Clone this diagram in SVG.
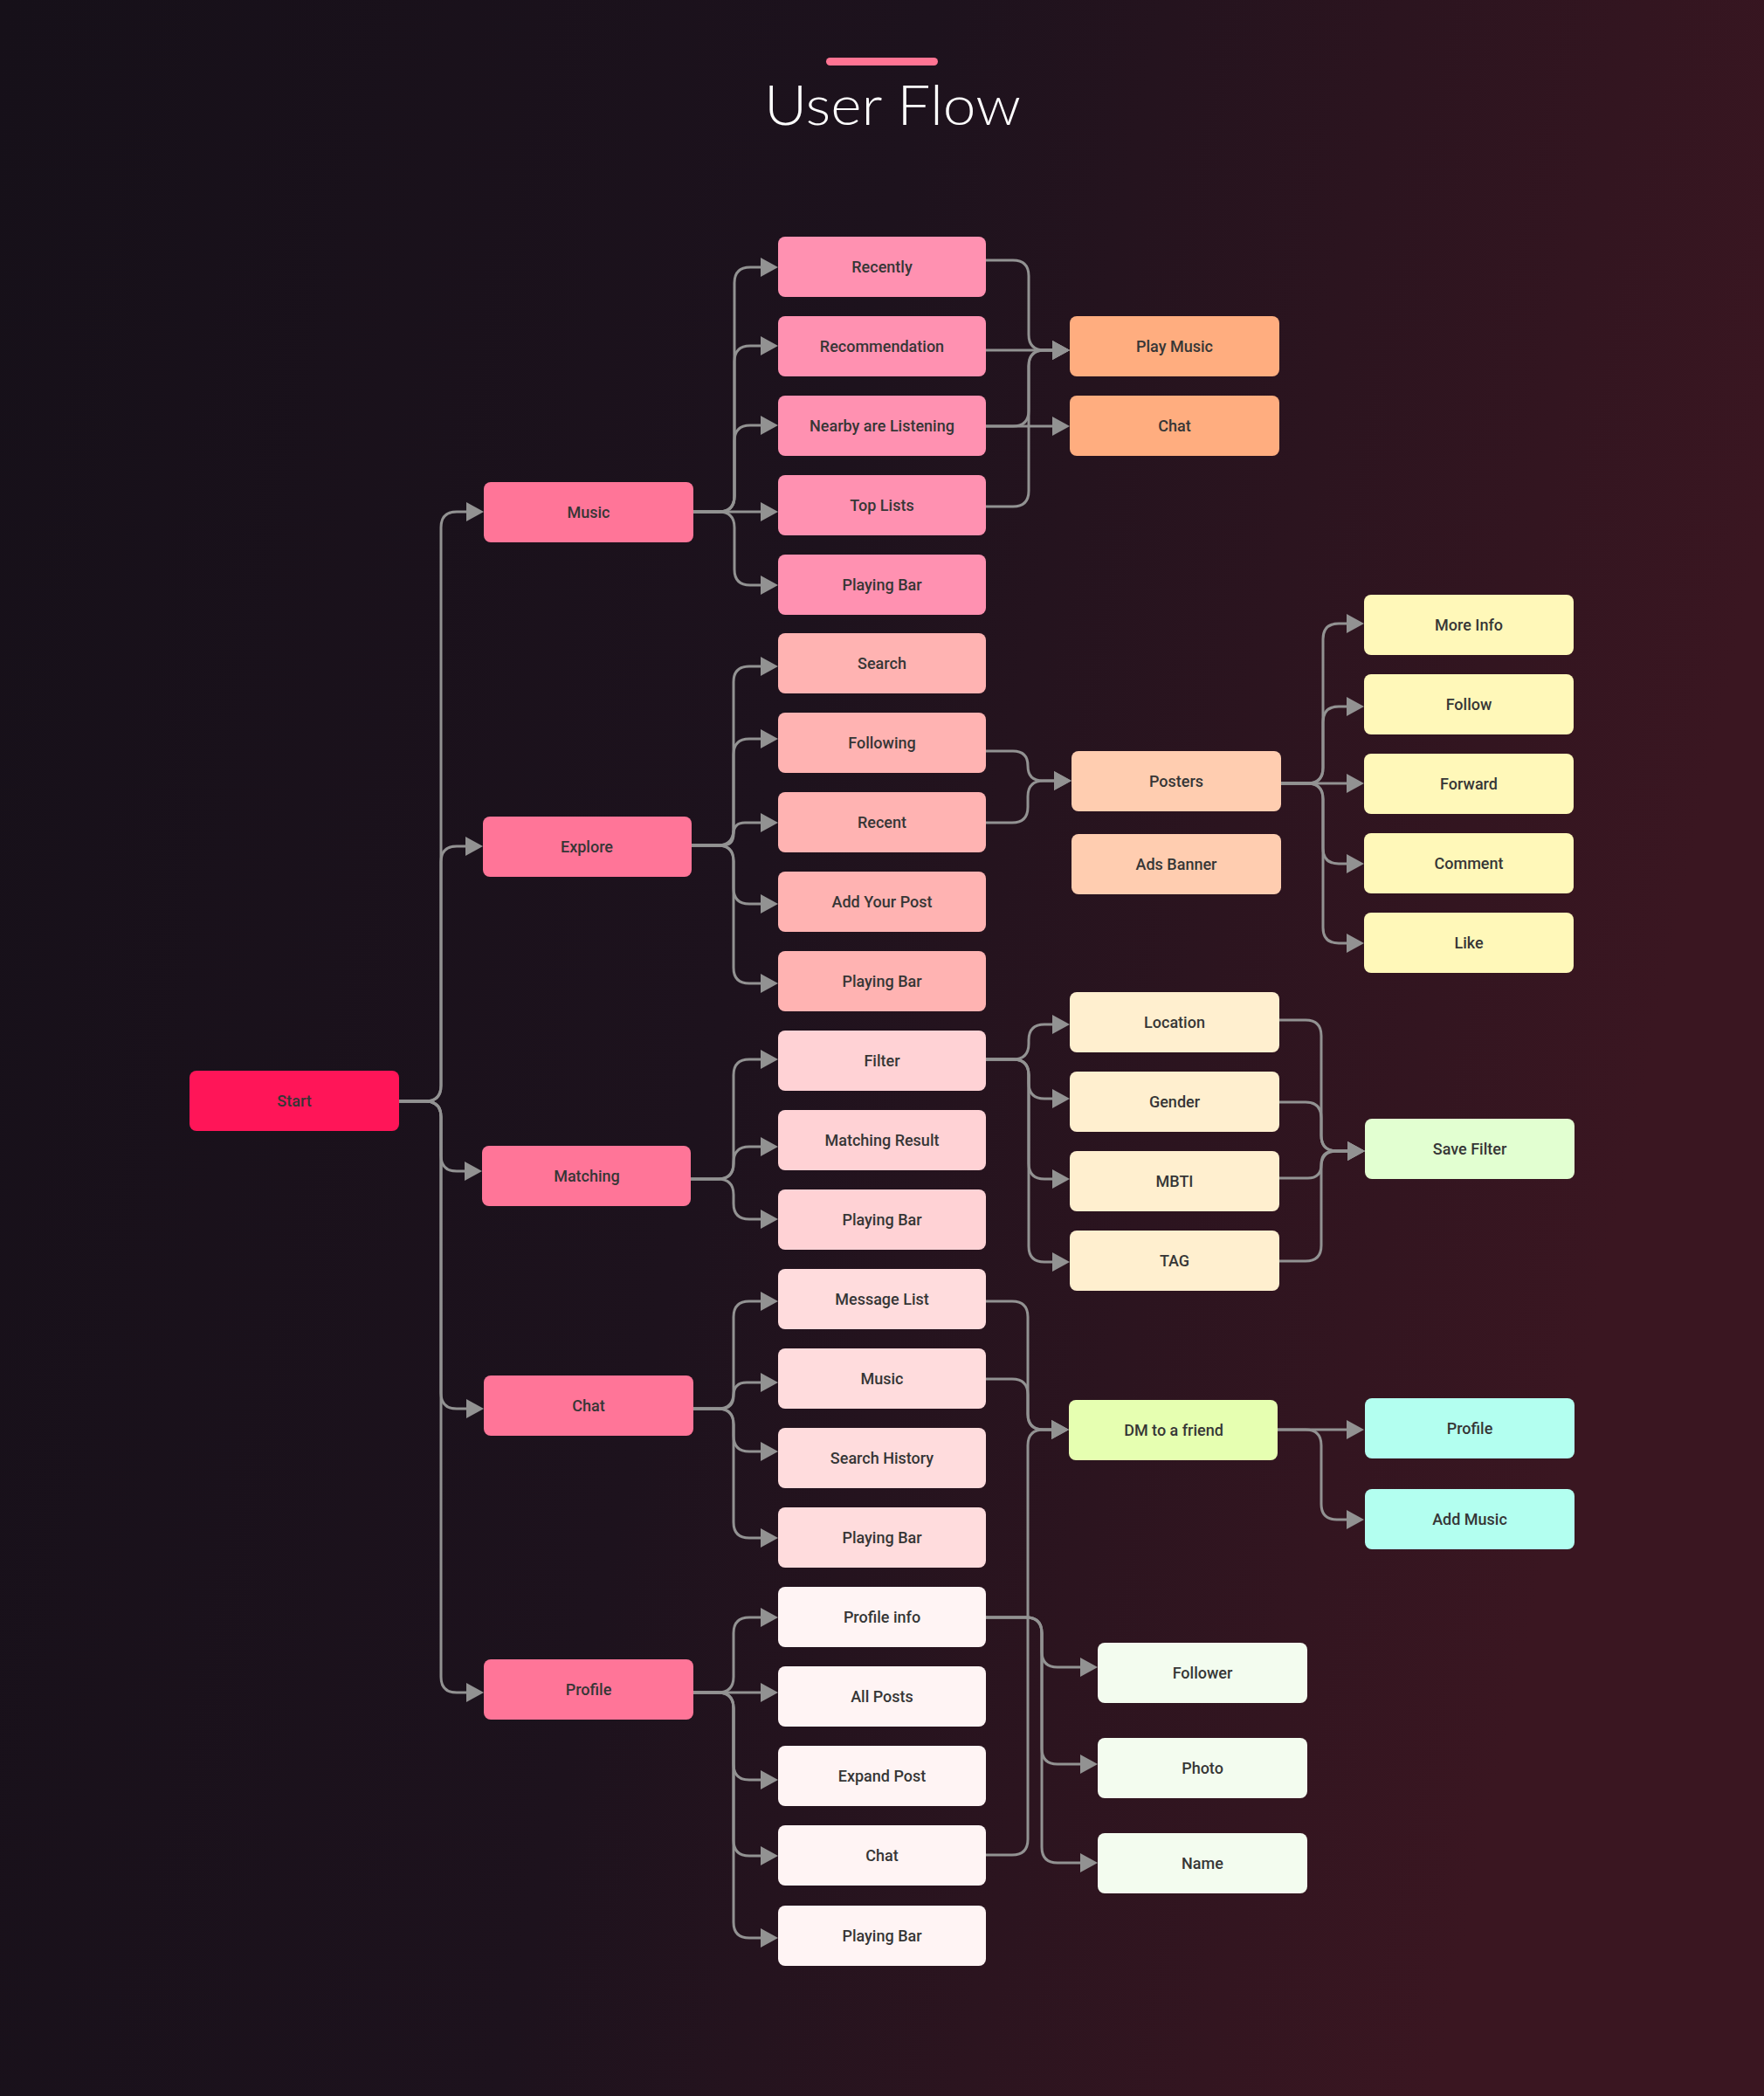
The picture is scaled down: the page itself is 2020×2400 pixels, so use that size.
<svg xmlns="http://www.w3.org/2000/svg" width="2020" height="2400" viewBox="0 0 2020 2400">
<defs>
<linearGradient id="bg" x1="0" y1="0" x2="1" y2="0.25">
<stop offset="0" stop-color="#161019"/>
<stop offset="0.5" stop-color="#1d121d"/>
<stop offset="1" stop-color="#3a1621"/>
</linearGradient>
<marker id="ah" markerUnits="userSpaceOnUse" markerWidth="20" markerHeight="22" refX="12" refY="11" orient="auto">
<path d="M0,0 L20,11 L0,22 Z" fill="#929292"/>
</marker>
<style>
.c path{fill:none;stroke:#929292;stroke-width:3;marker-end:url(#ah)}
.n rect{rx:8;ry:8}
.n text{font-family:Roboto,"Liberation Sans",sans-serif;font-weight:500;font-size:18px;fill:#363636;text-anchor:middle}
.st rect{fill:#FF1558}
.b rect{fill:#FF7598}
.c1 rect{fill:#FF91B1}
.c2 rect{fill:#FFB3B2}
.c3 rect{fill:#FFD2D5}
.c4 rect{fill:#FFDCDD}
.c5 rect{fill:#FFF4F4}
.d1 rect{fill:#FFAD7F}
.d2 rect{fill:#FFCDB0}
.d3 rect{fill:#FFEFCF}
.dm rect{fill:#E6FFB1}
.f rect{fill:#F3FCEF}
.e1 rect{fill:#FFF8B9}
.sf rect{fill:#E2FFD1}
.e3 rect{fill:#B3FFF0}
</style>
</defs>
<rect x="0" y="0" width="2020" height="2400" fill="url(#bg)"/>
<g id="title">
<rect x="946" y="66" width="128" height="9" rx="4.5" fill="#FF7493"/>
<text x="875" y="143" textLength="294" lengthAdjust="spacingAndGlyphs" font-family="Lato,'Open Sans',sans-serif" font-weight="300" font-size="64" fill="#ffffff">User Flow</text>
</g>
<g id="connectors" class="c">
<path d="M457 1261 H487 Q505 1261 505 1243 V604 Q505 586 523 586 H546"/>
<path d="M457 1261 H487 Q505 1261 505 1243 V987 Q505 969 523 969 H545"/>
<path d="M457 1261 H487 Q505 1261 505 1279 V1323 Q505 1341 523 1341 H544"/>
<path d="M457 1261 H487 Q505 1261 505 1279 V1595 Q505 1613 523 1613 H546"/>
<path d="M457 1261 H487 Q505 1261 505 1279 V1920 Q505 1938 523 1938 H546"/>
<path d="M794 586 H823 Q841 586 841 568 V324 Q841 306 859 306 H883"/>
<path d="M794 586 H823 Q841 586 841 568 V414 Q841 396 859 396 H883"/>
<path d="M794 586 H823 Q841 586 841 568 V505 Q841 487 859 487 H883"/>
<path d="M794 586 H883"/>
<path d="M794 586 H823 Q841 586 841 604 V652 Q841 670 859 670 H883"/>
<path d="M791 968 H822 Q840 968 840 950 V781 Q840 763 858 763 H883"/>
<path d="M791 968 H822 Q840 968 840 950 V864 Q840 846 858 846 H883"/>
<path d="M791 968 H827 Q840 968 840 955 Q840 942 853 942 H883"/>
<path d="M791 968 H822 Q840 968 840 986 V1017 Q840 1035 858 1035 H883"/>
<path d="M791 968 H822 Q840 968 840 986 V1108 Q840 1126 858 1126 H883"/>
<path d="M791 1350 H822 Q840 1350 840 1332 V1231 Q840 1213 858 1213 H883"/>
<path d="M791 1350 H822 Q840 1350 840 1332 V1331 Q840 1313 858 1313 H883"/>
<path d="M791 1350 H822 Q840 1350 840 1368 V1378 Q840 1396 858 1396 H883"/>
<path d="M794 1613 H822 Q840 1613 840 1595 V1508 Q840 1490 858 1490 H883"/>
<path d="M794 1613 H825 Q840 1613 840 1598 Q840 1583 855 1583 H883"/>
<path d="M794 1613 H822 Q840 1613 840 1631 V1644 Q840 1662 858 1662 H883"/>
<path d="M794 1613 H822 Q840 1613 840 1631 V1743 Q840 1761 858 1761 H883"/>
<path d="M794 1938 H822 Q840 1938 840 1920 V1870 Q840 1852 858 1852 H883"/>
<path d="M794 1938 H883"/>
<path d="M794 1938 H822 Q840 1938 840 1956 V2020 Q840 2038 858 2038 H883"/>
<path d="M794 1938 H822 Q840 1938 840 1956 V2107 Q840 2125 858 2125 H883"/>
<path d="M794 1938 H822 Q840 1938 840 1956 V2201 Q840 2219 858 2219 H883"/>
<path d="M1129 298 H1160 Q1178 298 1178 316 V383 Q1178 401 1196 401 H1217"/>
<path d="M1129 401 H1217"/>
<path d="M1129 488 H1160 Q1178 488 1178 470 V419 Q1178 401 1196 401 H1217"/>
<path d="M1129 488 H1217"/>
<path d="M1129 580 H1160 Q1178 580 1178 562 V419 Q1178 401 1196 401 H1217"/>
<path d="M1129 860 H1160 Q1177 860 1177 877 Q1177 894 1194 894 H1219"/>
<path d="M1129 942 H1159 Q1177 942 1177 924 V912 Q1177 894 1195 894 H1219"/>
<path d="M1467 897 H1497 Q1515 897 1515 879 V732 Q1515 714 1533 714 H1554"/>
<path d="M1467 897 H1497 Q1515 897 1515 879 V827 Q1515 809 1533 809 H1554"/>
<path d="M1467 897 H1554"/>
<path d="M1467 897 H1497 Q1515 897 1515 915 V971 Q1515 989 1533 989 H1554"/>
<path d="M1467 897 H1497 Q1515 897 1515 915 V1062 Q1515 1080 1533 1080 H1554"/>
<path d="M1129 1213 H1160 Q1178 1213 1178 1195 V1191 Q1178 1173 1196 1173 H1217"/>
<path d="M1129 1213 H1160 Q1178 1213 1178 1231 V1240 Q1178 1258 1196 1258 H1217"/>
<path d="M1129 1213 H1160 Q1178 1213 1178 1231 V1332 Q1178 1350 1196 1350 H1217"/>
<path d="M1129 1213 H1160 Q1178 1213 1178 1231 V1427 Q1178 1445 1196 1445 H1217"/>
<path d="M1465 1168 H1495 Q1513 1168 1513 1186 V1300 Q1513 1318 1531 1318 H1555"/>
<path d="M1465 1262 H1495 Q1513 1262 1513 1280 V1300 Q1513 1318 1531 1318 H1555"/>
<path d="M1465 1349 H1497.5 Q1513 1349 1513 1333.5 Q1513 1318 1528.5 1318 H1555"/>
<path d="M1465 1444 H1495 Q1513 1444 1513 1426 V1336 Q1513 1318 1531 1318 H1555"/>
<path d="M1129 1490 H1159 Q1177 1490 1177 1508 V1619 Q1177 1637 1195 1637 H1216"/>
<path d="M1129 1579 H1159 Q1177 1579 1177 1597 V1619 Q1177 1637 1195 1637 H1216"/>
<path d="M1129 2124 H1159 Q1177 2124 1177 2106 V1655 Q1177 1637 1195 1637 H1216"/>
<path d="M1463 1637 H1554"/>
<path d="M1463 1637 H1495 Q1513 1637 1513 1655 V1722 Q1513 1740 1531 1740 H1554"/>
<path d="M1129 1852 H1175 Q1193 1852 1193 1870 V1891 Q1193 1909 1211 1909 H1249"/>
<path d="M1129 1852 H1175 Q1193 1852 1193 1870 V2002 Q1193 2020 1211 2020 H1249"/>
<path d="M1129 1852 H1175 Q1193 1852 1193 1870 V2115 Q1193 2133 1211 2133 H1249"/>
</g>
<g id="n-start" class="n st"><rect x="217" y="1226" width="240" height="69"/><text x="337" y="1267">Start</text></g>
<g id="n-music" class="n b"><rect x="554" y="552" width="240" height="69"/><text x="674" y="593">Music</text></g>
<g id="n-explore" class="n b"><rect x="553" y="935" width="239" height="69"/><text x="672" y="976">Explore</text></g>
<g id="n-matching" class="n b"><rect x="552" y="1312" width="239" height="69"/><text x="672" y="1353">Matching</text></g>
<g id="n-chat" class="n b"><rect x="554" y="1575" width="240" height="69"/><text x="674" y="1616">Chat</text></g>
<g id="n-profile" class="n b"><rect x="554" y="1900" width="240" height="69"/><text x="674" y="1941">Profile</text></g>
<g id="n-recently" class="n c1"><rect x="891" y="271" width="238" height="69"/><text x="1010" y="312">Recently</text></g>
<g id="n-recommendation" class="n c1"><rect x="891" y="362" width="238" height="69"/><text x="1010" y="403">Recommendation</text></g>
<g id="n-nearby" class="n c1"><rect x="891" y="453" width="238" height="69"/><text x="1010" y="494">Nearby are Listening</text></g>
<g id="n-toplists" class="n c1"><rect x="891" y="544" width="238" height="69"/><text x="1010" y="585">Top Lists</text></g>
<g id="n-playingbar1" class="n c1"><rect x="891" y="635" width="238" height="69"/><text x="1010" y="676">Playing Bar</text></g>
<g id="n-search" class="n c2"><rect x="891" y="725" width="238" height="69"/><text x="1010" y="766">Search</text></g>
<g id="n-following" class="n c2"><rect x="891" y="816" width="238" height="69"/><text x="1010" y="857">Following</text></g>
<g id="n-recent" class="n c2"><rect x="891" y="907" width="238" height="69"/><text x="1010" y="948">Recent</text></g>
<g id="n-addpost" class="n c2"><rect x="891" y="998" width="238" height="69"/><text x="1010" y="1039">Add Your Post</text></g>
<g id="n-playingbar2" class="n c2"><rect x="891" y="1089" width="238" height="69"/><text x="1010" y="1130">Playing Bar</text></g>
<g id="n-filter" class="n c3"><rect x="891" y="1180" width="238" height="69"/><text x="1010" y="1221">Filter</text></g>
<g id="n-matchingresult" class="n c3"><rect x="891" y="1271" width="238" height="69"/><text x="1010" y="1312">Matching Result</text></g>
<g id="n-playingbar3" class="n c3"><rect x="891" y="1362" width="238" height="69"/><text x="1010" y="1403">Playing Bar</text></g>
<g id="n-messagelist" class="n c4"><rect x="891" y="1453" width="238" height="69"/><text x="1010" y="1494">Message List</text></g>
<g id="n-chatmusic" class="n c4"><rect x="891" y="1544" width="238" height="69"/><text x="1010" y="1585">Music</text></g>
<g id="n-searchhistory" class="n c4"><rect x="891" y="1635" width="238" height="69"/><text x="1010" y="1676">Search History</text></g>
<g id="n-playingbar4" class="n c4"><rect x="891" y="1726" width="238" height="69"/><text x="1010" y="1767">Playing Bar</text></g>
<g id="n-profileinfo" class="n c5"><rect x="891" y="1817" width="238" height="69"/><text x="1010" y="1858">Profile info</text></g>
<g id="n-allposts" class="n c5"><rect x="891" y="1908" width="238" height="69"/><text x="1010" y="1949">All Posts</text></g>
<g id="n-expandpost" class="n c5"><rect x="891" y="1999" width="238" height="69"/><text x="1010" y="2040">Expand Post</text></g>
<g id="n-profilechat" class="n c5"><rect x="891" y="2090" width="238" height="69"/><text x="1010" y="2131">Chat</text></g>
<g id="n-playingbar5" class="n c5"><rect x="891" y="2182" width="238" height="69"/><text x="1010" y="2223">Playing Bar</text></g>
<g id="n-playmusic" class="n d1"><rect x="1225" y="362" width="240" height="69"/><text x="1345" y="403">Play Music</text></g>
<g id="n-musicchat" class="n d1"><rect x="1225" y="453" width="240" height="69"/><text x="1345" y="494">Chat</text></g>
<g id="n-posters" class="n d2"><rect x="1227" y="860" width="240" height="69"/><text x="1347" y="901">Posters</text></g>
<g id="n-ads" class="n d2"><rect x="1227" y="955" width="240" height="69"/><text x="1347" y="996">Ads Banner</text></g>
<g id="n-location" class="n d3"><rect x="1225" y="1136" width="240" height="69"/><text x="1345" y="1177">Location</text></g>
<g id="n-gender" class="n d3"><rect x="1225" y="1227" width="240" height="69"/><text x="1345" y="1268">Gender</text></g>
<g id="n-mbti" class="n d3"><rect x="1225" y="1318" width="240" height="69"/><text x="1345" y="1359">MBTI</text></g>
<g id="n-tag" class="n d3"><rect x="1225" y="1409" width="240" height="69"/><text x="1345" y="1450">TAG</text></g>
<g id="n-dm" class="n dm"><rect x="1224" y="1603" width="239" height="69"/><text x="1344" y="1644">DM to a friend</text></g>
<g id="n-follower" class="n f"><rect x="1257" y="1881" width="240" height="69"/><text x="1377" y="1922">Follower</text></g>
<g id="n-photo" class="n f"><rect x="1257" y="1990" width="240" height="69"/><text x="1377" y="2031">Photo</text></g>
<g id="n-name" class="n f"><rect x="1257" y="2099" width="240" height="69"/><text x="1377" y="2140">Name</text></g>
<g id="n-moreinfo" class="n e1"><rect x="1562" y="681" width="240" height="69"/><text x="1682" y="722">More Info</text></g>
<g id="n-follow" class="n e1"><rect x="1562" y="772" width="240" height="69"/><text x="1682" y="813">Follow</text></g>
<g id="n-forward" class="n e1"><rect x="1562" y="863" width="240" height="69"/><text x="1682" y="904">Forward</text></g>
<g id="n-comment" class="n e1"><rect x="1562" y="954" width="240" height="69"/><text x="1682" y="995">Comment</text></g>
<g id="n-like" class="n e1"><rect x="1562" y="1045" width="240" height="69"/><text x="1682" y="1086">Like</text></g>
<g id="n-savefilter" class="n sf"><rect x="1563" y="1281" width="240" height="69"/><text x="1683" y="1322">Save Filter</text></g>
<g id="n-dmprofile" class="n e3"><rect x="1563" y="1601" width="240" height="69"/><text x="1683" y="1642">Profile</text></g>
<g id="n-addmusic" class="n e3"><rect x="1563" y="1705" width="240" height="69"/><text x="1683" y="1746">Add Music</text></g>
</svg>
